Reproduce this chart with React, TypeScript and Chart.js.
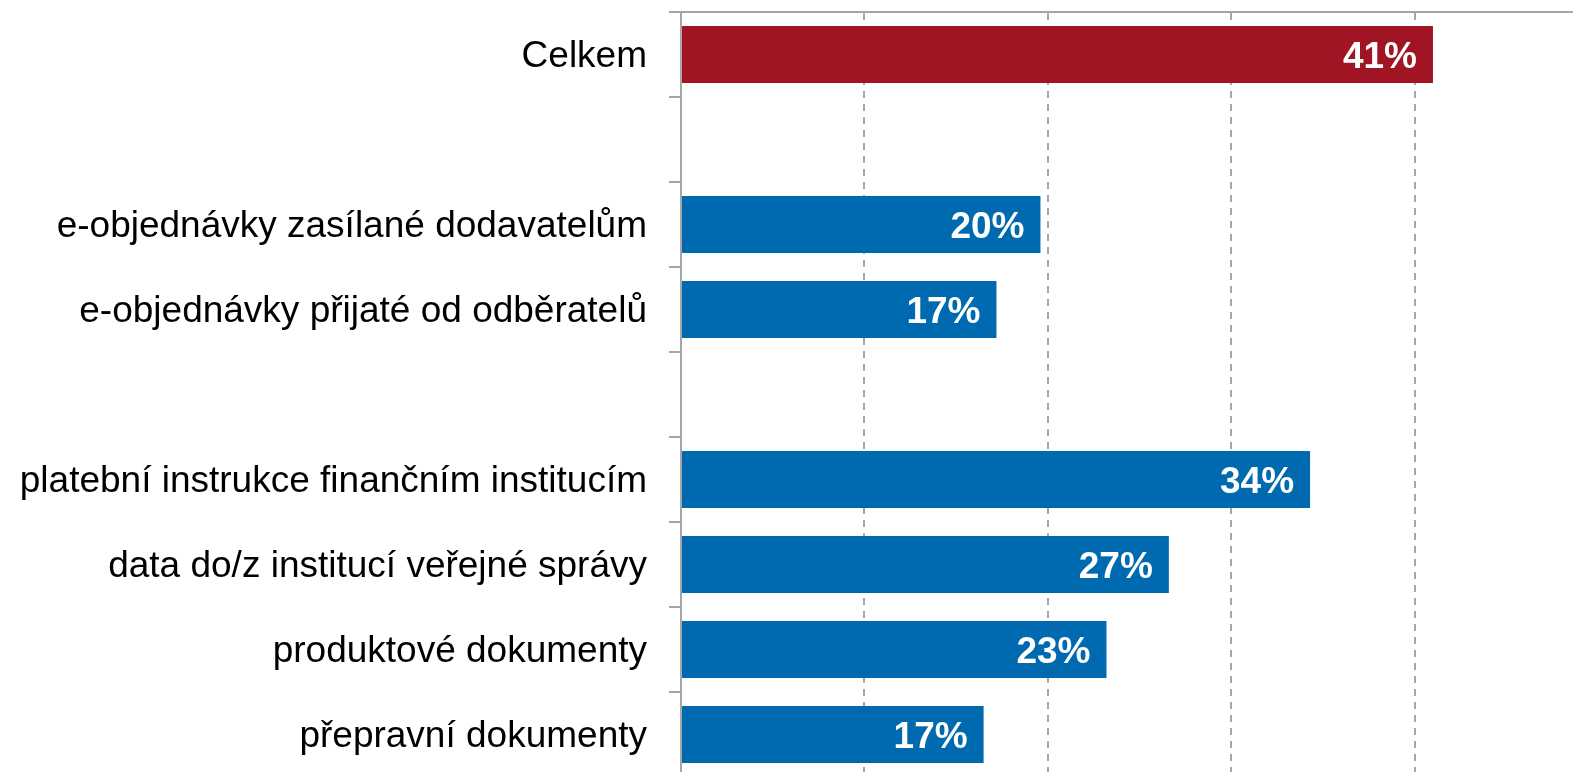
import React, { useEffect, useRef } from "react";
import { Chart, registerables } from "chart.js";

Chart.register(...registerables);

const categories = [
  "Celkem",
  "",
  "e-objednávky zasílané dodavatelům",
  "e-objednávky přijaté od odběratelů",
  "",
  "platební instrukce finančním institucím",
  "data do/z institucí veřejné správy",
  "produktové dokumenty",
  "přepravní dokumenty",
];
const values: (number | null)[] = [41.0, null, 19.6, 17.2, null, 34.3, 26.6, 23.2, 16.5];
const valueLabels = ["41%", "", "20%", "17%", "", "34%", "27%", "23%", "17%"];
const barColors = [
  "#A11423",
  "#006AB0",
  "#006AB0",
  "#006AB0",
  "#006AB0",
  "#006AB0",
  "#006AB0",
  "#006AB0",
  "#006AB0",
];
const xMin = 0;
const xMax = 50;
const xStep = 10;

const GRID = "#a6a6a6";
const FONT = '"Liberation Sans", Arial, sans-serif';

const valueLabelPlugin = {
  id: "valueLabels",
  afterDatasetsDraw(chart: any) {
    const ctx = chart.ctx;
    const meta = chart.getDatasetMeta(0);
    ctx.save();
    ctx.font = `bold 37px ${FONT}`;
    ctx.fillStyle = "#ffffff";
    ctx.textAlign = "right";
    ctx.textBaseline = "middle";
    meta.data.forEach((bar: any, i: number) => {
      const label = valueLabels[i];
      if (!label || values[i] == null) return;
      ctx.fillText(label, bar.x - 16, bar.y + 3);
    });
    ctx.restore();
  },
};

export default function App() {
  const ref = useRef<HTMLCanvasElement | null>(null);

  useEffect(() => {
    if (!ref.current) return;
    const chart = new Chart(ref.current, {
      type: "bar",
      data: {
        labels: categories,
        datasets: [
          {
            data: values as any,
            backgroundColor: barColors,
            borderWidth: 0,
            barPercentage: 0.67,
            categoryPercentage: 1,
          },
        ],
      },
      options: {
        indexAxis: "y",
        responsive: false,
        animation: false,
        devicePixelRatio: 1,
        layout: { padding: { left: 0, top: 12, right: 2, bottom: 3 } },
        plugins: {
          legend: { display: false },
          tooltip: { enabled: false },
        },
        scales: {
          x: {
            position: "top",
            min: xMin,
            max: xMax,
            ticks: { display: false, stepSize: xStep },
            grid: {
              drawTicks: false,
              lineWidth: 2,
              color: (c: any) =>
                c.tick && c.tick.value === 0 ? "rgba(0,0,0,0)" : GRID,
            },
            border: { display: true, color: GRID, width: 2, dash: [7, 6] },
          },
          y: {
            position: "left",
            afterFit: (scale: any) => {
              scale.width = 681;
              scale.paddingTop = 0;
              scale.paddingBottom = 0;
            },
            ticks: {
              color: "#000000",
              font: { family: FONT, size: 37 },
              padding: 22,
              labelOffset: 2,
            },
            grid: {
              display: true,
              offset: true,
              drawOnChartArea: false,
              drawTicks: true,
              tickLength: 12,
              color: GRID,
              lineWidth: 2,
            },
            border: { display: true, color: GRID, width: 2 },
          },
        },
      },
      plugins: [valueLabelPlugin],
    });
    return () => chart.destroy();
  }, []);

  return (
    <div
      style={{
        position: "fixed",
        left: 0,
        top: 0,
        width: 1600,
        height: 780,
        background: "#ffffff",
        overflow: "hidden",
      }}
    >
      <canvas
        ref={ref}
        width={1600}
        height={780}
        style={{ width: 1600, height: 780, display: "block" }}
      />
    </div>
  );
}
